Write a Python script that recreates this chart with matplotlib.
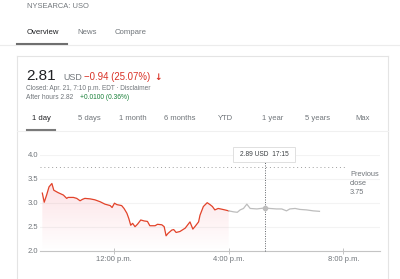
import numpy as np
import matplotlib
matplotlib.use("Agg")
import matplotlib.pyplot as plt
from matplotlib.patches import Rectangle, Polygon

plt.rcParams['font.family'] = ['Liberation Sans', 'DejaVu Sans']

# regular session (red) and after hours (grey) prices
day_times = ["9:30", "9:34", "9:39", "9:44", "9:50", "9:54", "10:03", "10:14", "10:21", "10:24",
             "10:35", "10:42", "10:49", "10:54", "10:59", "11:10", "11:20", "11:31", "11:41", "11:52",
             "11:56", "12:01", "12:06", "12:16", "12:21", "12:27", "12:31", "12:35", "12:39", "12:44",
             "12:49", "12:56", "13:03", "13:10", "13:15", "13:26", "13:31", "13:40", "13:45", "13:49",
             "13:53", "14:01", "14:05", "14:10", "14:18", "14:29", "14:39", "14:45", "14:50", "14:57",
             "15:00", "15:07", "15:15", "15:21", "15:26", "15:31", "15:38", "15:43", "15:52", "16:00"]
day_prices = [3.20, 3.01, 3.16, 3.33, 3.40, 3.26, 3.21, 3.16, 3.09, 3.11,
              3.11, 3.09, 3.04, 3.07, 3.09, 3.08, 3.06, 3.02, 2.97, 2.94,
              2.90, 2.99, 2.96, 2.94, 2.88, 2.78, 2.67, 2.53, 2.57, 2.50,
              2.55, 2.64, 2.62, 2.61, 2.52, 2.52, 2.55, 2.54, 2.50, 2.31,
              2.36, 2.43, 2.44, 2.38, 2.40, 2.47, 2.60, 2.45, 2.51, 2.60,
              2.74, 2.92, 3.00, 2.96, 2.92, 2.85, 2.88, 2.87, 2.85, 2.83]
ah_times = ["16:00", "16:10", "16:18", "16:24", "16:31", "16:38", "16:45", "16:59", "17:15", "17:26",
            "17:40", "17:51", "18:01", "18:08", "18:19", "18:29", "18:43", "18:57", "19:10"]
ah_prices = [2.83, 2.81, 2.80, 2.85, 2.88, 2.97, 2.88, 2.87, 2.89, 2.88,
             2.87, 2.87, 2.83, 2.87, 2.88, 2.86, 2.85, 2.83, 2.82]
prev_close = 3.75
hover_time = "17:15"
hover_price = 2.89
y_ticks = [2.0, 2.5, 3.0, 3.5, 4.0]
x_ticks = [12, 16, 20]
x_labels = ["12:00 p.m.", "4:00 p.m.", "8:00 p.m."]
ranges = ["1 day", "5 days", "1 month", "6 months", "YTD", "1 year", "5 years", "Max"]
range_x = [41, 89, 133, 180, 225, 273, 318, 363]


def hours(t):
    h, m = t.split(":")
    return int(h) + int(m) / 60


def px(x, y):
    return x / 400, 1 - y / 279


W, H = 400, 279
fig = plt.figure(figsize=(4, 2.79), dpi=100)
fig.patch.set_facecolor("white")

grey_txt = "#70757a"
red = "#e2432a"

# header
fig.text(*px(27, 7), "NYSEARCA: USO", fontsize=5.4, color=grey_txt, va="center")
fig.text(*px(27, 32), "Overview", fontsize=5.6, color="#202124", va="center")
fig.text(*px(77, 32), "News", fontsize=5.6, color=grey_txt, va="center")
fig.text(*px(115, 32), "Compare", fontsize=5.6, color=grey_txt, va="center")
fig.add_artist(plt.Line2D([0, 1], [1 - 45 / H] * 2, color="#ececec", lw=0.8))
fig.add_artist(plt.Line2D([17 / W, 67 / W], [1 - 43.5 / H] * 2, color="#6f6f6f", lw=1.5))

# card border
fig.add_artist(plt.Line2D([17 / W, 388 / W], [1 - 56 / H] * 2, color="#e4e4e4", lw=0.8))
fig.add_artist(plt.Line2D([17 / W, 17 / W], [0, 1 - 56 / H], color="#e4e4e4", lw=0.8))
fig.add_artist(plt.Line2D([388 / W, 388 / W], [0, 1 - 56 / H], color="#e4e4e4", lw=0.8))

# price block
fig.text(*px(26, 80), "2.81", fontsize=11, color="#202124", va="baseline")
fig.text(*px(63, 80), "USD", fontsize=6.4, color=grey_txt, va="baseline")
fig.text(*px(84, 80), "\u22120.94 (25.07%)", fontsize=6.9, color="#d93025", va="baseline")
fig.text(*px(154, 80), "\u2193", fontsize=6.4, color="#d93025", va="baseline",
         family=['DejaVu Sans'], fontweight="bold")
fig.text(*px(26, 89), "Closed: Apr. 21, 7:10 p.m. EDT \u00b7 Disclaimer", fontsize=4.7,
         color=grey_txt, va="center")
fig.text(*px(26, 97), "After hours 2.82 ", fontsize=4.8, color=grey_txt, va="center")
fig.text(*px(79.5, 97), "+0.0100 (0.36%)", fontsize=4.8, color="#188038", va="center")

# range tabs
for lab, x in zip(ranges, range_x):
    fig.text(*px(x, 118), lab, fontsize=5.5, ha="center", va="center",
             color="#202124" if lab == "1 day" else grey_txt)
fig.add_artist(plt.Line2D([17 / W, 388 / W], [1 - 131 / H] * 2, color="#f0f0f0", lw=0.8))
fig.add_artist(plt.Line2D([27 / W, 55 / W], [1 - 130 / H] * 2, color="#7a7a7a", lw=1.5))

# chart
ax = fig.add_axes([40 / W, 1 - 250.7 / H, 340 / W, 96 / H])
x0 = 12 + (40 - 114) / 28.67
x1 = 12 + (380 - 114) / 28.67
ax.set_xlim(x0, x1)
ax.set_ylim(2.0, 4.0)
for s in ["top", "right", "left"]:
    ax.spines[s].set_visible(False)
ax.spines["bottom"].set_color("#c4c4c4")
ax.spines["bottom"].set_linewidth(0.8)
ax.set_yticks(y_ticks)
ax.set_yticklabels([f"{v:.1f}" for v in y_ticks])
ax.set_xticks(x_ticks)
ax.set_xticklabels(x_labels)
ax.tick_params(axis="y", length=0, pad=1.5, labelsize=5.5, labelcolor=grey_txt)
ax.tick_params(axis="x", length=4, direction="inout", color="#c4c4c4", width=0.7,
               pad=1.5, labelsize=5.5, labelcolor=grey_txt)
for v in y_ticks[1:]:
    ax.axhline(v, color="#f3f3f3", lw=0.8, zorder=0)

dx = [hours(t) for t in day_times]
ax_x = [hours(t) for t in ah_times]

# gradient under the regular session line
poly = Polygon(list(zip(dx, day_prices)) + [(dx[-1], 2.0), (dx[0], 2.0)],
               closed=True, facecolor="none", edgecolor="none")
ax.add_patch(poly)
grad = np.zeros((100, 2, 4))
rgb = matplotlib.colors.to_rgb("#f25a6e")
grad[..., 0], grad[..., 1], grad[..., 2] = rgb
grad[..., 3] = np.linspace(0.18, 0.0, 100)[:, None]
im = ax.imshow(grad, extent=[dx[0], dx[-1], 2.0, 3.42], aspect="auto", origin="upper", zorder=1)
im.set_clip_path(poly)

ax.plot(dx, day_prices, color=red, lw=0.9, zorder=3)
ax.plot(ax_x, ah_prices, color="#bdbdbd", lw=0.9, zorder=3)

# previous close
pc_end = 12 + (347 - 114) / 28.67
ax.plot([x0, pc_end], [prev_close] * 2, color="#9e9e9e", lw=0.7, ls=(0, (1, 3)), zorder=2)
fig.text(*px(350, 171), "Previous\nclose\n3.75", fontsize=5.3, color=grey_txt,
         va="top", linespacing=1.35)

# hover marker
ht = hours(hover_time)
ax.plot([ht, ht], [2.0, 3.85], color="#5f6368", lw=0.7, ls=(0, (1, 1.5)), zorder=4,
        clip_on=False)
ax.plot([ht], [hover_price], "o", color="#bdbdbd", ms=3, zorder=5)
fig.add_artist(Rectangle(px(233, 162), 62 / W, 15 / H, facecolor="white",
                         edgecolor="#e0e0e0", lw=0.7, zorder=6))
fig.text(*px(264, 154.5), "2.89 USD  17:15", fontsize=4.8, color="#3c4043",
         ha="center", va="center", zorder=7)

fig.savefig("out.png", dpi=100, facecolor="white")
